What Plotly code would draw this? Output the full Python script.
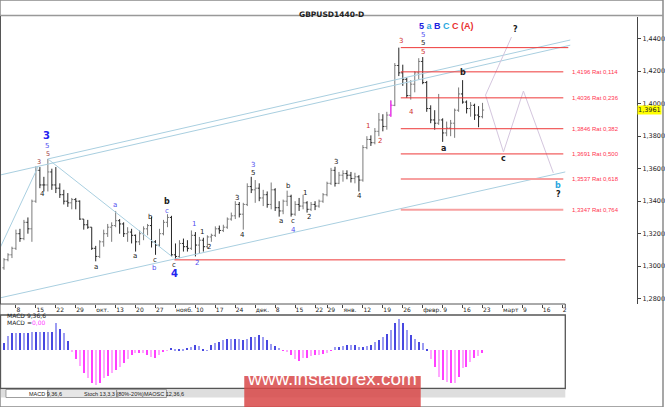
import plotly.graph_objects as go

W, H = 665, 407

# ---------------- data ----------------
tick_idx = [3, 8, 13, 18, 23, 28, 33, 38, 43, 48, 53, 58, 63, 68, 73, 78, 81, 85,
            90, 95, 100, 105, 110, 115, 120, 125, 130, 135, 140]
tick_text = ["8", "15", "22", "29", "окт.", "13", "20", "27", "нояб.", "10", "17", "24",
             "дек.", "8", "15", "22", "29", "янв.", "12", "19", "26", "февр.", "9", "16",
             "23", "март", "9", "16", "2"]

price_ticks = [1.28, 1.30, 1.32, 1.34, 1.36, 1.38, 1.40, 1.42, 1.44]
price_tick_text = ["1,2800", "1,3000", "1,3200", "1,3400", "1,3600", "1,3800",
                   "1,4000", "1,4200", "1,4400"]

opens = [1.2990, 1.3040, 1.3070, 1.3110, 1.3200, 1.3170, 1.3270, 1.3230, 1.3400, 1.3590,
         1.3500, 1.3500, 1.3580, 1.3500, 1.3480, 1.3440, 1.3400, 1.3390, 1.3410, 1.3400,
         1.3290, 1.3255, 1.3240, 1.3110, 1.3060, 1.3150, 1.3200, 1.3240, 1.3250, 1.3280,
         1.3260, 1.3200, 1.3210, 1.3190, 1.3150, 1.3200, 1.3230, 1.3250, 1.3150, 1.3130,
         1.3200, 1.3270, 1.3300, 1.3070, 1.3060, 1.3140, 1.3120, 1.3110, 1.3190, 1.3130,
         1.3160, 1.3120, 1.3180, 1.3190, 1.3230, 1.3220, 1.3240, 1.3290, 1.3310, 1.3380,
         1.3320, 1.3380, 1.3490, 1.3470, 1.3480, 1.3420, 1.3440, 1.3380, 1.3470, 1.3360,
         1.3340, 1.3400, 1.3430, 1.3320, 1.3380, 1.3370, 1.3390, 1.3350, 1.3380, 1.3370,
         1.3400, 1.3440, 1.3510, 1.3590, 1.3510, 1.3560, 1.3570, 1.3560, 1.3540, 1.3550,
         1.3530, 1.3730, 1.3780, 1.3760, 1.3830, 1.3900, 1.3860, 1.3930, 1.3990, 1.4235,
         1.4190, 1.4150, 1.4050, 1.4120, 1.4190, 1.4260, 1.4130, 1.3970, 1.3900, 1.3880,
         1.3900, 1.3820, 1.3850, 1.3880, 1.3960, 1.4060, 1.4010, 1.3970, 1.3990, 1.3930,
         1.3920]
highs = [1.3050, 1.3080, 1.3120, 1.3225, 1.3230, 1.3285, 1.3300, 1.3410, 1.3615, 1.3610,
         1.3550, 1.3660, 1.3600, 1.3610, 1.3510, 1.3470, 1.3450, 1.3420, 1.3420, 1.3405,
         1.3290, 1.3285, 1.3240, 1.3125, 1.3160, 1.3225, 1.3260, 1.3270, 1.3340, 1.3290,
         1.3270, 1.3240, 1.3230, 1.3195, 1.3220, 1.3245, 1.3260, 1.3305, 1.3160, 1.3230,
         1.3285, 1.3320, 1.3310, 1.3140, 1.3160, 1.3170, 1.3160, 1.3220, 1.3210, 1.3180,
         1.3175, 1.3190, 1.3200, 1.3245, 1.3250, 1.3255, 1.3300, 1.3330, 1.3400, 1.3395,
         1.3390, 1.3510, 1.3550, 1.3530, 1.3510, 1.3470, 1.3460, 1.3515, 1.3480, 1.3400,
         1.3410, 1.3465, 1.3440, 1.3400, 1.3420, 1.3440, 1.3400, 1.3395, 1.3400, 1.3410,
         1.3450, 1.3520, 1.3605, 1.3612, 1.3580, 1.3590, 1.3590, 1.3580, 1.3575, 1.3560,
         1.3745, 1.3800, 1.3805, 1.3850, 1.3943, 1.3935, 1.3950, 1.4020, 1.4250, 1.4345,
         1.4240, 1.4160, 1.4145, 1.4200, 1.4280, 1.4287, 1.4140, 1.3990, 1.3960, 1.4060,
         1.3910, 1.3890, 1.3900, 1.3970, 1.4100, 1.4145, 1.4020, 1.4010, 1.4000, 1.3985,
         1.4005]
lows = [1.2978, 1.3030, 1.3050, 1.3100, 1.3150, 1.3160, 1.3200, 1.3150, 1.3390, 1.3480,
        1.3460, 1.3460, 1.3470, 1.3450, 1.3420, 1.3380, 1.3365, 1.3350, 1.3350, 1.3285,
        1.3225, 1.3230, 1.3100, 1.3030, 1.3050, 1.3120, 1.3180, 1.3150, 1.3240, 1.3200,
        1.3180, 1.3150, 1.3140, 1.3090, 1.3130, 1.3160, 1.3190, 1.3115, 1.3070, 1.3120,
        1.3190, 1.3240, 1.3060, 1.3045, 1.3050, 1.3090, 1.3090, 1.3100, 1.3060, 1.3080,
        1.3090, 1.3110, 1.3150, 1.3180, 1.3200, 1.3210, 1.3230, 1.3280, 1.3290, 1.3300,
        1.3225, 1.3370, 1.3450, 1.3390, 1.3400, 1.3370, 1.3360, 1.3350, 1.3340, 1.3305,
        1.3320, 1.3370, 1.3305, 1.3310, 1.3340, 1.3350, 1.3330, 1.3340, 1.3345, 1.3360,
        1.3390, 1.3430, 1.3500, 1.3490, 1.3505, 1.3520, 1.3535, 1.3515, 1.3510, 1.3460,
        1.3520, 1.3720, 1.3740, 1.3750, 1.3800, 1.3830, 1.3840, 1.3920, 1.3985, 1.4170,
        1.4110, 1.4035, 1.4025, 1.4070, 1.4150, 1.4120, 1.3950, 1.3880, 1.3840, 1.3870,
        1.3765, 1.3800, 1.3800, 1.3790, 1.3950, 1.4000, 1.3940, 1.3920, 1.3900, 1.3855,
        1.3910]
closes = [1.3040, 1.3070, 1.3110, 1.3200, 1.3170, 1.3270, 1.3230, 1.3400, 1.3590, 1.3500,
          1.3500, 1.3580, 1.3500, 1.3480, 1.3440, 1.3400, 1.3390, 1.3410, 1.3400, 1.3290,
          1.3255, 1.3240, 1.3110, 1.3060, 1.3150, 1.3200, 1.3240, 1.3250, 1.3280, 1.3260,
          1.3200, 1.3210, 1.3190, 1.3150, 1.3200, 1.3230, 1.3250, 1.3150, 1.3130, 1.3200,
          1.3270, 1.3300, 1.3070, 1.3060, 1.3140, 1.3120, 1.3110, 1.3190, 1.3130, 1.3160,
          1.3120, 1.3180, 1.3190, 1.3230, 1.3220, 1.3240, 1.3290, 1.3310, 1.3380, 1.3320,
          1.3380, 1.3490, 1.3470, 1.3480, 1.3420, 1.3440, 1.3380, 1.3470, 1.3360, 1.3340,
          1.3400, 1.3430, 1.3320, 1.3380, 1.3370, 1.3390, 1.3350, 1.3380, 1.3370, 1.3400,
          1.3440, 1.3510, 1.3590, 1.3510, 1.3560, 1.3570, 1.3560, 1.3540, 1.3550, 1.3530,
          1.3730, 1.3780, 1.3760, 1.3830, 1.3900, 1.3860, 1.3930, 1.3990, 1.4235, 1.4190,
          1.4150, 1.4050, 1.4120, 1.4190, 1.4260, 1.4130, 1.3970, 1.3900, 1.3880, 1.3900,
          1.3820, 1.3850, 1.3880, 1.3960, 1.4060, 1.4010, 1.3970, 1.3990, 1.3930, 1.3920,
          1.3961]

macd_hist = [7.7, 14.3, 17.0, 17.7, 17.7, 17.7, 17.7, 18.0, 18.3, 18.3, 18.3, 18.3, 18.7,
             27.0, 21.0, 17.0, 9.7,
             -1.0, -9.0, -15.7, -23.0, -28.0, -32.3, -34.7, -32.3, -28.0, -25.7, -23.0,
             -19.7, -16.3, -13.0, -9.0, -4.7, -3.0, -2.3, -3.0, -4.7, -6.3, -8.0, -4.7,
             -1.0, -0.5,
             2.0, 1.0, 1.3, 1.7, 2.3, 3.7, 5.7, 4.3, 1.0, 0.3, 5.3, 7.0, 8.7, 10.3, 11.0,
             11.3, 11.3, 11.0, 10.3, 11.0, 13.0, 13.7, 15.3, 13.0, 10.3, 6.3, 4.3, 2.3, -0.3,
             -1.7, -4.7, -9.0, -10.3, -8.0, -7.3, -5.7, -4.7, -4.7, -3.7, -3.0, -0.7,
             3.0, 3.7, 4.7, 5.7, 5.7, 5.0, 3.7, 3.0, 4.3, 5.0, 8.3, 10.3, 13.7, 16.0, 20.3,
             27.0, 31.5, 27.7, 20.3, 15.3, 11.0, 8.7, 7.0, 1.0,
             -9.0, -16.3, -26.3, -29.7, -31.3, -33.0, -33.0, -26.3, -18.0, -16.3, -11.3,
             -8.0, -5.7, -3.0]

last_price = 1.3961
marked_bar = 97

fib_levels = [1.4345, 1.4196, 1.4036, 1.3846, 1.3691, 1.3537, 1.3347]
fib_texts = ["", "1,4196 Rat 0,114", "1,4036 Rat 0,236", "1,3846 Rat 0,382",
             "1,3691 Rat 0,500", "1,3537 Rat 0,618", "1,3347 Rat 0,764"]
fib_start = 99.5
red_level = 1.3039
red_level_start = 42.75

# analyst trend lines: (x0, y0, x1, y1) in bar index / price
channel_lines = [(-1, 1.2805, 140.75, 1.3580),
                 (11, 1.3660, 142.0, 1.4392),
                 (-1, 1.3561, 142.0, 1.4360),
                 (-1, 1.3112, 8.5, 1.3610),
                 (11, 1.3660, 42.25, 1.3057)]
forecast_up_x = [120.75, 127.25]
forecast_up_y = [1.4053, 1.4410]
forecast_path_x = [120.75, 125.25, 130.25, 137.75]
forecast_path_y = [1.4053, 1.3703, 1.4078, 1.3574]

wave_labels = [
    ("3", 10.75, 1.3807, "bb"), ("5", 10.75, 1.3740, "b"), ("5", 11.0, 1.3690, "dr"),
    ("3", 8.75, 1.3641, "dr"), ("4", 9.75, 1.3444, "k"), ("a", 23.0, 1.2995, "k"),
    ("a", 27.75, 1.3376, "b"), ("a", 32.75, 1.3062, "k"), ("b", 36.75, 1.3302, "k"),
    ("c", 37.75, 1.3039, "k"), ("b", 37.75, 1.2989, "b"), ("b", 40.75, 1.3400, "kb"),
    ("c", 40.75, 1.3338, "b"), ("c", 42.75, 1.3008, "k"), ("4", 42.75, 1.2953, "bb"),
    ("1", 47.75, 1.3259, "b"), ("2", 48.5, 1.3020, "b"), ("1", 49.75, 1.3210, "k"),
    ("2", 51.5, 1.3119, "k"), ("3", 58.5, 1.3420, "k"), ("4", 59.75, 1.3192, "k"),
    ("3", 62.5, 1.3622, "b"), ("5", 62.5, 1.3574, "k"), ("a", 69.5, 1.3278, "k"),
    ("b", 71.25, 1.3493, "k"), ("c", 72.5, 1.3278, "k"), ("4", 72.5, 1.3220, "b"),
    ("1", 75.5, 1.3450, "k"), ("2", 76.5, 1.3303, "k"), ("3", 83.25, 1.3641, "k"),
    ("4", 89.25, 1.3432, "k"), ("1", 91.25, 1.3863, "r"), ("2", 94.25, 1.3770, "r"),
    ("3", 99.5, 1.4386, "r"), ("4", 102.25, 1.3949, "r"), ("5", 105.0, 1.4423, "b"),
    ("5", 105.0, 1.4374, "k"), ("5", 105.0, 1.4318, "r"), ("b", 115.0, 1.4189, "kb"),
    ("a", 110.25, 1.3727, "kb"), ("c", 125.25, 1.3660, "kb"), ("?", 128.25, 1.4454, "kb"),
    ("b", 139.0, 1.3494, "cb"), ("?", 139.0, 1.3444, "kb"),
]
top_label_pos = (111.0, 1.4478)
top_label_parts = [("5", "#2020e0"), ("a", "#2aa7de"), ("B", "#2020e0"),
                   ("C", "#2aa7de"), ("C", "#e83030"), ("(A)", "#e83030")]

# ---------------- figure ----------------
FONT = "DejaVu Sans"
NARROW = "Liberation Sans"
s = 0.02 / 32.5
pmax = 1.44 + (38.7 - 17) * s
pmin = 1.44 - (304 - 38.7) * s


def py(y):
    return 1 - y / H


def pxp(x):
    return x / W


idx = list(range(len(closes)))
fig = go.Figure()
fig.add_trace(go.Ohlc(x=idx, open=opens, high=highs, low=lows, close=closes,
                      increasing=dict(line=dict(color="#7a7a7a", width=1)),
                      decreasing=dict(line=dict(color="#262626", width=1)),
                      tickwidth=0.4, showlegend=False, hoverinfo="skip",
                      xaxis="x", yaxis="y"))
m = marked_bar
fig.add_trace(go.Scatter(
    x=[m, m, None, m - 0.4, m, None, m, m + 0.4],
    y=[lows[m], highs[m], None, opens[m], opens[m], None, closes[m], closes[m]],
    mode="lines", line=dict(color="#ff30ff", width=1.2), showlegend=False,
    hoverinfo="skip", xaxis="x", yaxis="y"))

# trend lines
for (x0, y0, x1, y1) in channel_lines:
    fig.add_trace(go.Scatter(x=[x0, x1], y=[y0, y1], mode="lines",
                             line=dict(color="#a9cfe0", width=1), showlegend=False,
                             hoverinfo="skip", xaxis="x", yaxis="y"))
fig.add_trace(go.Scatter(x=forecast_up_x, y=forecast_up_y, mode="lines",
                         line=dict(color="#d4c6de", width=1), showlegend=False,
                         hoverinfo="skip"))
fig.add_trace(go.Scatter(x=forecast_path_x, y=forecast_path_y, mode="lines",
                         line=dict(color="#d4c6de", width=1), showlegend=False,
                         hoverinfo="skip"))

# fib lines
for k, (lv, tx) in enumerate(zip(fib_levels, fib_texts)):
    thick = lv < 1.36
    x_end = 141.5 if tx == "" else 140.25
    fig.add_shape(type="line", xref="x", yref="y", x0=fib_start, x1=x_end, y0=lv, y1=lv,
                  line=dict(color="#f7a0a0" if thick else "#ee3838", width=2 if thick else 1))
    if tx:
        fig.add_annotation(x=142, y=lv, xref="x", yref="y", text=tx, showarrow=False,
                           xanchor="left", yanchor="middle",
                           font=dict(family=NARROW, size=6, color="#ff3350"))
fig.add_shape(type="line", xref="x", yref="y", x0=red_level_start, x1=140.75,
              y0=red_level, y1=red_level, line=dict(color="#ee3838", width=1))

# MACD histogram
mcolors = []
for k, v in enumerate(macd_hist):
    if v >= 0:
        mcolors.append("#4848e0" if k % 2 == 0 else "#9c9cf2")
    else:
        mcolors.append("#ff40ff" if k % 2 == 0 else "#ffa8ff")
fig.add_trace(go.Bar(x=idx, y=macd_hist, width=0.3, marker=dict(color=mcolors, line=dict(width=0)),
                     showlegend=False, hoverinfo="skip", xaxis="x2", yaxis="y2"))

styles = {
    "bb": dict(color="#2424f0", size=10, bold=True),
    "b": dict(color="#5050f0", size=7, bold=False),
    "dr": dict(color="#a04040", size=6.5, bold=False),
    "k": dict(color="#202020", size=7, bold=False),
    "kb": dict(color="#202020", size=8, bold=True),
    "r": dict(color="#d03030", size=7, bold=False),
    "cb": dict(color="#2aa7de", size=8, bold=True),
}
for (t, xi, yi, st) in wave_labels:
    sd = styles[st]
    txt = "<b>%s</b>" % t if sd["bold"] else t
    fig.add_annotation(x=xi, y=yi, xref="x", yref="y", text=txt, showarrow=False,
                       font=dict(family=FONT, size=sd["size"], color=sd["color"]))

top_txt = " ".join("<span style='color:%s'><b>%s</b></span>" % (c, t)
                   for t, c in top_label_parts)
fig.add_annotation(x=top_label_pos[0], y=top_label_pos[1], xref="x", yref="y", text=top_txt,
                   showarrow=False, font=dict(family=NARROW, size=9))

# last price tag
fig.add_annotation(x=pxp(639), y=last_price, xref="paper", yref="y",
                   text="1,3961", showarrow=False, xanchor="left", yanchor="middle",
                   bgcolor="#ffff00", borderpad=0,
                   font=dict(family=FONT, size=6.5, color="#222"))

# title
fig.add_annotation(x=0.5, y=py(7.5), xref="paper", yref="paper", text="<b>GBPUSD1440-D</b>",
                   showarrow=False, font=dict(family=FONT, size=7.5, color="#222"))

# frames
line_c = "#555555"
fig.add_shape(type="rect", xref="paper", yref="paper", x0=0, x1=1, y0=0, y1=1,
              line=dict(color="#8a8a8a", width=1.5))
fig.add_shape(type="line", xref="paper", yref="paper", x0=0, x1=1, y0=py(15.5), y1=py(15.5),
              line=dict(color="#999999", width=1.5))
fig.add_shape(type="line", xref="paper", yref="paper", x0=pxp(0.5), x1=pxp(0.5),
              y0=py(304), y1=py(16), line=dict(color=line_c, width=1))
fig.add_shape(type="line", xref="paper", yref="paper", x0=0, x1=pxp(567),
              y0=py(304), y1=py(304), line=dict(color=line_c, width=1))
fig.add_shape(type="line", xref="paper", yref="paper", x0=pxp(567), x1=pxp(567),
              y0=py(304), y1=py(308), line=dict(color=line_c, width=1))
fig.add_shape(type="rect", xref="paper", yref="paper", x0=pxp(0.5), x1=pxp(567),
              y0=py(388.5), y1=py(315), line=dict(color=line_c, width=1.3))

# MACD panel captions
fig.add_annotation(x=pxp(5), y=py(320.5), xref="paper", yref="paper", text="MACD 9,36,6",
                   showarrow=False, xanchor="left", font=dict(family=FONT, size=6, color="#222"))
fig.add_annotation(x=pxp(5), y=py(327.5), xref="paper", yref="paper",
                   text="MACD =<span style='color:#ff40ff'>0,00</span>",
                   showarrow=False, xanchor="left", font=dict(family=FONT, size=6, color="#222"))

# bottom tab strip
fig.add_shape(type="rect", xref="paper", yref="paper", x0=pxp(1), x1=pxp(567),
              y0=py(397.5), y1=py(389.5), line=dict(width=0), fillcolor="#dedede")
tabs = [("MACD 9,36,6", 6, 48, "#ffffff"), ("Stoch 13,3,3 (80%-20%)", 48, 117, "#e6e6e6"),
        ("MAOSC 12,36,6", 117, 167, "#e6e6e6")]
for (t, a, b, fc) in tabs:
    fig.add_shape(type="rect", xref="paper", yref="paper", x0=pxp(a), x1=pxp(b),
                  y0=py(397.5), y1=py(389.5), line=dict(color="#888", width=0.8), fillcolor=fc)
    fig.add_annotation(x=pxp((a + b) / 2), y=py(393.5), xref="paper", yref="paper", text=t,
                       showarrow=False, yanchor="middle",
                       font=dict(family=NARROW, size=5.5, color="#222"))

# watermark
fig.add_shape(type="rect", xref="paper", yref="paper", x0=pxp(245), x1=pxp(422),
              y0=0, y1=py(376), line=dict(width=0), fillcolor="rgba(216,72,72,0.85)")
fig.add_annotation(x=pxp(333.5), y=py(391), xref="paper", yref="paper",
                   text="www.instaforex.com", showarrow=False,
                   font=dict(family="Liberation Sans", size=19, color="#ffffff"))

fig.update_layout(
    width=W, height=H, margin=dict(l=0, r=0, t=0, b=0),
    paper_bgcolor="white", plot_bgcolor="white", showlegend=False,
    bargap=0,
    xaxis=dict(domain=[0, 639 / W], range=[-1, 158.75], anchor="y",
               showgrid=False, zeroline=False, showline=False,
               tickvals=tick_idx, ticktext=tick_text, ticks="outside", ticklen=3,
               tickangle=0, tickcolor="#444", ticklabelposition="outside right",
               tickfont=dict(family=FONT, size=6, color="#222"),
               rangeslider=dict(visible=False)),
    yaxis=dict(domain=[py(304), py(17)], range=[pmin, pmax], anchor="x", side="right",
               showgrid=False, zeroline=False, showline=True, linecolor="#444", linewidth=1,
               tickvals=price_ticks, ticktext=price_tick_text, ticks="outside", ticklen=3,
               tickcolor="#444", tickfont=dict(family=FONT, size=6.5, color="#222")),
    xaxis2=dict(domain=[0, 567 / W], range=[-1, 140.75], anchor="y2",
                showgrid=False, zeroline=False, showline=False, showticklabels=False),
    yaxis2=dict(domain=[py(389), py(315)], range=[-38.7, 35.3], anchor="x2",
                showgrid=False, zeroline=False, showline=False, showticklabels=False),
)

fig.write_html("out.html", config={"displayModeBar": False},
               post_script="document.body.style.margin='0';document.body.style.overflow='hidden';")
